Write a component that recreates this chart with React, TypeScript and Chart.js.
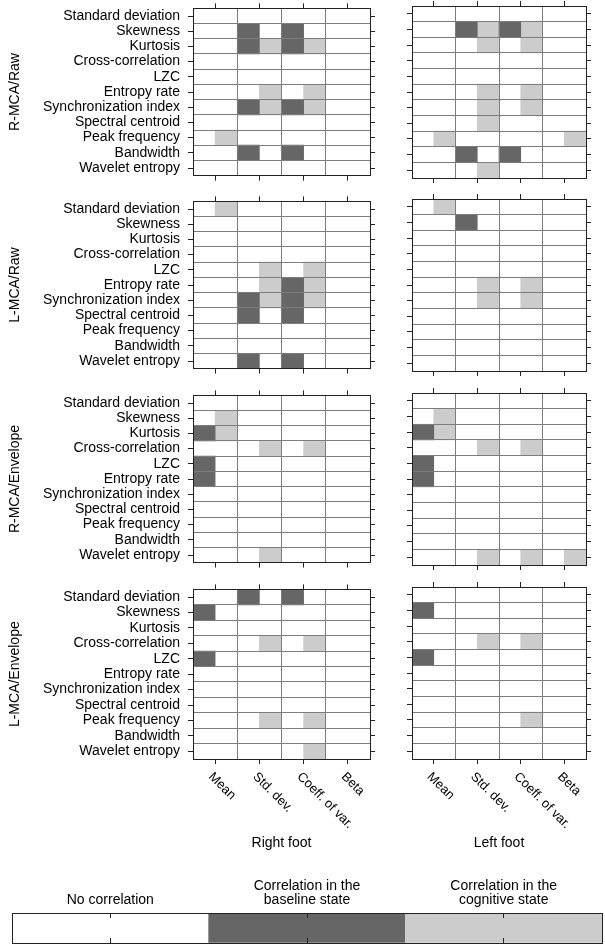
import React, { useEffect, useRef } from 'react';
import { Chart, registerables } from 'chart.js';

Chart.register(...registerables);
Chart.defaults.font.family = "'Liberation Sans', Arial, Helvetica, sans-serif";
Chart.defaults.color = '#000';

// ---------- data ----------
const FEATURES = [
  'Standard deviation',
  'Skewness',
  'Kurtosis',
  'Cross-correlation',
  'LZC',
  'Entropy rate',
  'Synchronization index',
  'Spectral centroid',
  'Peak frequency',
  'Bandwidth',
  'Wavelet entropy',
];
const MEASURES = ['Mean', 'Std. dev.', 'Coeff. of var.', 'Beta'];
const GROUPS = ['R-MCA/Raw', 'L-MCA/Raw', 'R-MCA/Envelope', 'L-MCA/Envelope'];
const FEET = ['Right foot', 'Left foot'];

// codes per [feature][measure]: 0 none, 1 baseline, 2 cognitive, 3 both
const R_MCA_RAW_RIGHT = [
  [0, 0, 0, 0], [0, 1, 1, 0], [0, 3, 3, 0], [0, 0, 0, 0], [0, 0, 0, 0], [0, 2, 2, 0],
  [0, 3, 3, 0], [0, 0, 0, 0], [2, 0, 0, 0], [0, 1, 1, 0], [0, 0, 0, 0],
];
const R_MCA_RAW_LEFT = [
  [0, 0, 0, 0], [0, 3, 3, 0], [0, 2, 2, 0], [0, 0, 0, 0], [0, 0, 0, 0], [0, 2, 2, 0],
  [0, 2, 2, 0], [0, 2, 0, 0], [2, 0, 0, 2], [0, 1, 1, 0], [0, 2, 0, 0],
];
const L_MCA_RAW_RIGHT = [
  [2, 0, 0, 0], [0, 0, 0, 0], [0, 0, 0, 0], [0, 0, 0, 0], [0, 2, 2, 0], [0, 2, 3, 0],
  [0, 3, 3, 0], [0, 1, 1, 0], [0, 0, 0, 0], [0, 0, 0, 0], [0, 1, 1, 0],
];
const L_MCA_RAW_LEFT = [
  [2, 0, 0, 0], [0, 1, 0, 0], [0, 0, 0, 0], [0, 0, 0, 0], [0, 0, 0, 0], [0, 2, 2, 0],
  [0, 2, 2, 0], [0, 0, 0, 0], [0, 0, 0, 0], [0, 0, 0, 0], [0, 0, 0, 0],
];
const R_MCA_ENV_RIGHT = [
  [0, 0, 0, 0], [2, 0, 0, 0], [3, 0, 0, 0], [0, 2, 2, 0], [1, 0, 0, 0], [1, 0, 0, 0],
  [0, 0, 0, 0], [0, 0, 0, 0], [0, 0, 0, 0], [0, 0, 0, 0], [0, 2, 0, 0],
];
const R_MCA_ENV_LEFT = [
  [0, 0, 0, 0], [2, 0, 0, 0], [3, 0, 0, 0], [0, 2, 2, 0], [1, 0, 0, 0], [1, 0, 0, 0],
  [0, 0, 0, 0], [0, 0, 0, 0], [0, 0, 0, 0], [0, 0, 0, 0], [0, 2, 2, 2],
];
const L_MCA_ENV_RIGHT = [
  [0, 1, 1, 0], [1, 0, 0, 0], [0, 0, 0, 0], [0, 2, 2, 0], [1, 0, 0, 0], [0, 0, 0, 0],
  [0, 0, 0, 0], [0, 0, 0, 0], [0, 2, 2, 0], [0, 0, 0, 0], [0, 0, 2, 0],
];
const L_MCA_ENV_LEFT = [
  [0, 0, 0, 0], [1, 0, 0, 0], [0, 0, 0, 0], [0, 2, 2, 0], [1, 0, 0, 0], [0, 0, 0, 0],
  [0, 0, 0, 0], [0, 0, 0, 0], [0, 0, 2, 0], [0, 0, 0, 0], [0, 0, 0, 0],
];
const PANEL_DATA = [
  [R_MCA_RAW_RIGHT, R_MCA_RAW_LEFT],
  [L_MCA_RAW_RIGHT, L_MCA_RAW_LEFT],
  [R_MCA_ENV_RIGHT, R_MCA_ENV_LEFT],
  [L_MCA_ENV_RIGHT, L_MCA_ENV_LEFT],
];

const LEGEND_LABELS = [
  'No correlation',
  ['Correlation in the', 'baseline state'],
  ['Correlation in the', 'cognitive state'],
];
const LEGEND_VALUES = [1, 1, 1];

// ---------- styles / layout ----------
const DARK = '#666666';
const LIGHT = '#cccccc';
const WHITE = '#ffffff';
const LEGEND_COLORS = [WHITE, DARK, LIGHT];
const GRID = '#7d7d7d';
const AXIS = '#222222';
const CLEAR = 'rgba(0,0,0,0)';

const PANEL_TOP = [6, 199, 393, 587];
const PANEL_H = 172;
const COL_LEFT = [193, 412];
const COL_W = [177, 174];

const isWhole = (v: number) => Math.abs(v - Math.round(v)) < 1e-6;
const fixW = (w: number) => (s: any) => { s.width = w; };
const fixH = (h: number) => (s: any) => { s.height = h; };

const rotatedLabels = {
  id: 'rotatedLabels',
  afterDraw(chart: any, _args: any, opts: any) {
    if (!opts || !opts.show) return;
    const scale = chart.scales.x;
    const ctx = chart.ctx;
    MEASURES.forEach((label, i) => {
      const px = scale.getPixelForValue(i + 0.5);
      const py = chart.chartArea.bottom + 11;
      ctx.save();
      ctx.translate(px, py);
      ctx.rotate(Math.PI / 4);
      ctx.font = "13px 'Liberation Sans', Arial, sans-serif";
      ctx.fillStyle = '#000';
      ctx.textAlign = 'left';
      ctx.textBaseline = 'top';
      ctx.fillText(label, 0, 0);
      ctx.restore();
    });
  },
};

function Panel({ row, col }: { row: number; col: number }) {
  const ref = useRef<HTMLCanvasElement | null>(null);
  const isLeft = col === 0;
  const isBottom = row === PANEL_TOP.length - 1;
  const L = isLeft ? COL_LEFT[0] : 10;
  const R = isLeft ? 10 : 19;
  const T = 14;
  const B = isBottom ? 93 : 14;
  const W = L + COL_W[col] + R;
  const H = T + PANEL_H + B;

  useEffect(() => {
    const codes = PANEL_DATA[row][col];
    const baseline: any[] = [];
    const cognitive: any[] = [];
    codes.forEach((rowCodes, r) =>
      rowCodes.forEach((code, m) => {
        if (code & 1) baseline.push({ x: [m, m + 0.5], y: FEATURES[r] });
        if (code & 2) cognitive.push({ x: [m + 0.5, m + 1], y: FEATURES[r] });
      })
    );
    const xTickColor = (c: any) => (c.tick && !isWhole(c.tick.value) ? AXIS : CLEAR);
    const chart = new Chart(ref.current as HTMLCanvasElement, {
      type: 'bar',
      data: {
        labels: FEATURES,
        datasets: [
          {
            label: 'Correlation in the baseline state',
            data: baseline,
            backgroundColor: DARK,
            borderWidth: 0,
            grouped: false,
            categoryPercentage: 1,
            barPercentage: 1,
            xAxisID: 'x',
            yAxisID: 'y',
          } as any,
          {
            label: 'Correlation in the cognitive state',
            data: cognitive,
            backgroundColor: LIGHT,
            borderWidth: 0,
            grouped: false,
            categoryPercentage: 1,
            barPercentage: 1,
            xAxisID: 'x',
            yAxisID: 'y',
          } as any,
        ],
      },
      options: {
        indexAxis: 'y',
        responsive: false,
        animation: false,
        events: [],
        layout: { padding: 0 },
        plugins: {
          legend: { display: false },
          tooltip: { enabled: false },
          rotatedLabels: { show: isBottom },
        } as any,
        scales: {
          x: {
            type: 'linear',
            axis: 'x',
            position: 'bottom',
            min: 0,
            max: 4,
            afterFit: fixH(B),
            ticks: { stepSize: 0.5, display: false },
            grid: {
              z: 1,
              lineWidth: 1,
              tickLength: 5,
              color: (c: any) =>
                c.tick && isWhole(c.tick.value) && c.tick.value > 0 && c.tick.value < 4 ? GRID : CLEAR,
              tickColor: xTickColor,
            },
            border: { display: true, color: AXIS, width: 1, z: 2 },
            title: {
              display: isBottom,
              text: FEET[col],
              font: { size: 14 },
              color: '#000',
              padding: { top: 0, bottom: 0 },
            },
          },
          xt: {
            type: 'linear',
            axis: 'x',
            position: 'top',
            min: 0,
            max: 4,
            afterFit: fixH(T),
            ticks: { stepSize: 0.5, display: false },
            grid: { z: 1, drawOnChartArea: false, tickLength: 5, tickColor: xTickColor },
            border: { display: true, color: AXIS, width: 1, z: 2 },
          },
          y: {
            type: 'category',
            axis: 'y',
            position: 'left',
            labels: FEATURES,
            offset: true,
            afterFit: fixW(0),
            ticks: { display: false },
            grid: {
              offset: true,
              drawTicks: false,
              z: 1,
              lineWidth: 1,
              color: (c: any) => (c.index > 0 && c.index < FEATURES.length ? GRID : CLEAR),
            },
            border: { display: false },
          },
          yl: {
            type: 'category',
            axis: 'y',
            position: 'left',
            labels: FEATURES,
            offset: true,
            afterFit: fixW(L),
            ticks: { display: isLeft, autoSkip: false, padding: 8, font: { size: 14 }, color: '#000' },
            grid: { offset: false, drawOnChartArea: false, tickLength: 5, tickColor: AXIS, z: 1 },
            border: { display: true, color: AXIS, width: 1, z: 2 },
            title: {
              display: isLeft,
              text: GROUPS[row],
              font: { size: 14 },
              color: '#000',
              padding: { top: 7, bottom: 0 },
            },
          },
          yr: {
            type: 'category',
            axis: 'y',
            position: 'right',
            labels: FEATURES,
            offset: true,
            afterFit: fixW(R),
            ticks: { display: false },
            grid: { offset: false, drawOnChartArea: false, tickLength: 5, tickColor: AXIS, z: 1 },
            border: { display: true, color: AXIS, width: 1, z: 2 },
          },
        } as any,
      },
      plugins: [rotatedLabels as any],
    });
    return () => chart.destroy();
  }, [row, col]);

  return (
    <canvas
      ref={ref}
      width={W}
      height={H}
      style={{
        position: 'absolute',
        left: COL_LEFT[col] - L,
        top: PANEL_TOP[row] - T,
        width: W,
        height: H,
        display: 'block',
      }}
    />
  );
}

function Legend() {
  const ref = useRef<HTMLCanvasElement | null>(null);
  const left = 2;
  const top = 870;
  const W = 603;
  const H = 75;
  useEffect(() => {
    const inwardGrid = { offset: false, drawOnChartArea: false, tickLength: -5, tickColor: AXIS, z: 1 };
    const chart = new Chart(ref.current as HTMLCanvasElement, {
      type: 'bar',
      data: {
        labels: LEGEND_LABELS as any,
        datasets: [
          {
            data: LEGEND_VALUES,
            backgroundColor: LEGEND_COLORS,
            borderWidth: 0,
            categoryPercentage: 1,
            barPercentage: 1,
            xAxisID: 'x',
            yAxisID: 'y',
          } as any,
        ],
      },
      options: {
        responsive: false,
        animation: false,
        events: [],
        layout: { padding: 0 },
        plugins: { legend: { display: false }, tooltip: { enabled: false } },
        scales: {
          x: {
            type: 'category',
            axis: 'x',
            position: 'top',
            offset: true,
            afterFit: fixH(43),
            ticks: {
              autoSkip: false,
              maxRotation: 0,
              minRotation: 0,
              padding: 11,
              font: { size: 14, lineHeight: 1.0 },
              color: '#000',
            },
            grid: inwardGrid,
            border: { display: true, color: AXIS, width: 1, z: 2 },
          },
          xb: {
            type: 'category',
            axis: 'x',
            position: 'bottom',
            labels: LEGEND_LABELS,
            offset: true,
            afterFit: fixH(2),
            ticks: { display: false },
            grid: inwardGrid,
            border: { display: true, color: AXIS, width: 1, z: 2 },
          },
          y: {
            type: 'linear',
            axis: 'y',
            position: 'left',
            min: 0,
            max: 1,
            afterFit: fixW(10),
            ticks: { display: false },
            grid: { drawOnChartArea: false, drawTicks: false },
            border: { display: true, color: AXIS, width: 1, z: 2 },
          },
          yr: {
            type: 'linear',
            axis: 'y',
            position: 'right',
            min: 0,
            max: 1,
            afterFit: fixW(3),
            ticks: { display: false },
            grid: { drawOnChartArea: false, drawTicks: false },
            border: { display: true, color: AXIS, width: 1, z: 2 },
          },
        } as any,
      },
    });
    return () => chart.destroy();
  }, []);
  return (
    <canvas
      ref={ref}
      width={W}
      height={H}
      style={{ position: 'absolute', left, top, width: W, height: H, display: 'block' }}
    />
  );
}

export default function App() {
  const panels: React.ReactNode[] = [];
  PANEL_TOP.forEach((_, row) => {
    COL_LEFT.forEach((__, col) => {
      panels.push(<Panel key={`${row}-${col}`} row={row} col={col} />);
    });
  });
  return (
    <div
      style={{
        position: 'absolute',
        left: 0,
        top: 0,
        width: 605,
        height: 945,
        overflow: 'hidden',
        background: '#fff',
      }}
    >
      {panels}
      <Legend />
    </div>
  );
}
